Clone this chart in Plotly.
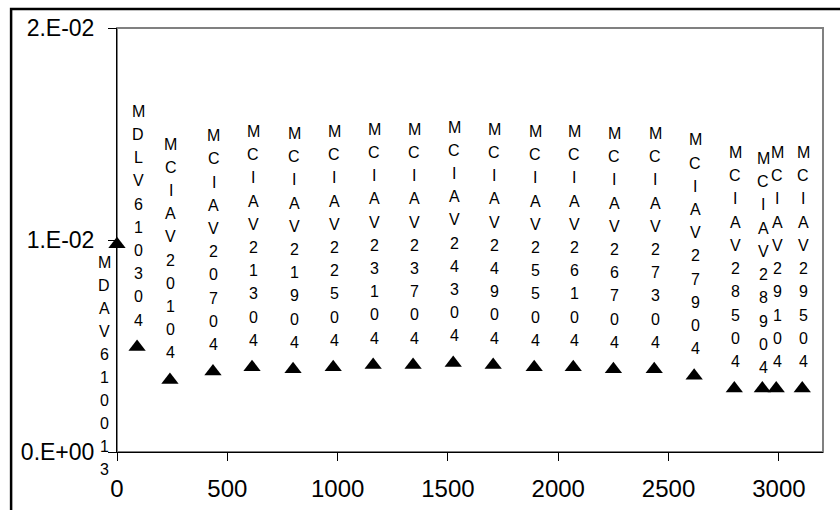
import plotly.graph_objects as go

# Data
x_vals = [0, 91, 240, 435, 612, 798, 980, 1161, 1342, 1524,
          1705, 1891, 2068, 2250, 2435, 2616, 2798, 2925, 2988, 3106]
y_vals = [0.0098, 0.00495, 0.0034, 0.0038, 0.0040, 0.0039, 0.0040, 0.0041, 0.0041, 0.0042,
          0.0041, 0.0040, 0.0040, 0.0039, 0.0039, 0.0036, 0.0030, 0.0030, 0.0030, 0.0030]
point_labels = ["MDAV610013", "MDLV610304", "MCIAV20104", "MCIAV20704", "MCIAV21304",
                "MCIAV21904", "MCIAV22504", "MCIAV23104", "MCIAV23704", "MCIAV24304",
                "MCIAV24904", "MCIAV25504", "MCIAV26104", "MCIAV26704", "MCIAV27304",
                "MCIAV27904", "MCIAV28504", "MCIAV28904", "MCIAV29104", "MCIAV29504"]
x_ticks = [0, 500, 1000, 1500, 2000, 2500, 3000]
y_ticks = [0, 0.01, 0.02]
y_tick_text = ["0.E+00", "1.E-02", "2.E-02"]

FONT = "Arial, Liberation Sans, sans-serif"

fig = go.Figure()
fig.add_trace(go.Scatter(
    x=x_vals, y=y_vals, mode="markers",
    marker=dict(symbol="triangle-up", size=15, color="black"),
    cliponaxis=False, showlegend=False, hoverinfo="skip",
))

# vertically stacked data labels, one character per line
LINE = 23.2
annotations = []
for i, (xv, yv, lab) in enumerate(zip(x_vals, y_vals, point_labels)):
    n = len(lab)
    for k, ch in enumerate(lab):
        if i == 0:
            xs, ys = -13, -18 - k * 23.0
        else:
            xs = 1
            ys = 27 + (n - 1 - k) * LINE
            if i == 17:
                ys -= 6
        annotations.append(dict(
            x=xv, y=yv, xref="x", yref="y", text=ch, showarrow=False,
            xshift=xs, yshift=ys, xanchor="center", yanchor="middle",
            font=dict(family=FONT, size=16, color="black"),
        ))

fig.update_layout(
    width=840, height=510,
    margin=dict(l=117, r=17, t=28, b=58, autoexpand=False),
    paper_bgcolor="white", plot_bgcolor="white",
    font=dict(family=FONT, color="black"),
    annotations=annotations,
    shapes=[
        # plot-area frame (grey top/right)
        dict(type="rect", xref="paper", yref="paper", x0=0, y0=0, x1=1, y1=1,
             line=dict(color="#808080", width=2), layer="below"),
        # outer chart frame
        dict(type="rect", xref="paper", yref="paper", x0=-0.150, y0=-0.3, x1=1.1, y1=1.0448,
             line=dict(color="black", width=2.5), layer="above"),
    ],
    xaxis=dict(
        range=[0, 3200], tickvals=x_ticks, ticktext=[str(t) for t in x_ticks],
        showgrid=False, zeroline=False, showline=True, linecolor="black", linewidth=1,
        ticks="outside", ticklen=8, tickcolor="black", tickwidth=1,
        ticklabelstandoff=7, automargin=False,
        tickfont=dict(family=FONT, size=24, color="black"),
    ),
    yaxis=dict(
        range=[0, 0.02], tickvals=y_ticks, ticktext=y_tick_text,
        showgrid=False, zeroline=False, showline=True, linecolor="black", linewidth=1,
        ticks="outside", ticklen=8, tickcolor="black", tickwidth=1,
        ticklabelstandoff=9, automargin=False,
        tickfont=dict(family=FONT, size=23, color="black"),
    ),
)

fig.write_html("out.html")
